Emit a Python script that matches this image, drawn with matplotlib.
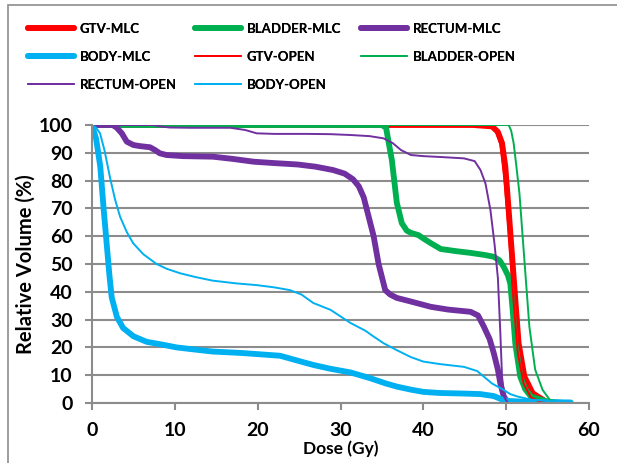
import matplotlib.pyplot as plt
from matplotlib.patches import Rectangle

plt.rcParams['font.family'] = ['Lato', 'DejaVu Sans']
plt.rcParams['font.weight'] = 'bold'

# dose-volume curves (dose in Gy, volume in %)
gtv_mlc_x = [0, 10, 20, 30, 40, 46, 48.3, 49.0, 49.5, 49.9, 50.3, 50.9, 51.5, 52.2, 53.2, 54.8, 56]
gtv_mlc_y = [100, 100, 100, 100, 100, 100, 99.5, 97.5, 93.5, 85, 69.4, 45.4, 21.5, 9.5, 3.5, 0.5, 0]

bladder_mlc_x = [0, 10, 20, 30, 35.0, 35.5, 35.8, 36.2, 36.8, 37.4, 38.0, 38.5, 39.4, 40.1, 40.9, 42.1,
                 44, 45.7, 47.5, 48.5, 49.2, 49.7, 50.2, 50.5, 50.8, 51.1, 51.7, 52.3, 53.0, 55.0, 57]
bladder_mlc_y = [100, 100, 100, 100, 100, 99, 94, 87.4, 72, 64.7, 62, 61.2, 60.4, 59, 57.5, 55.4,
                 54.6, 54, 53.2, 52.6, 51.3, 49, 46, 43, 33, 21.5, 9.5, 5, 2.3, 0.5, 0]

rectum_mlc_x = [0, 2.5, 3.0, 3.6, 4.2, 5.0, 5.8, 7.0, 7.6, 8.2, 9.0, 11, 14.6, 17, 19.5, 22, 24.8, 27,
                29.1, 30.5, 31.5, 32.2, 32.8, 33.4, 34.0, 34.6, 35.4, 36.0, 36.8, 38.5, 40.9, 43, 45.7,
                46.6, 47.3, 48.0, 48.5, 49.0, 49.3, 49.7, 50.2, 52, 57]
rectum_mlc_y = [100, 100, 99, 97, 94, 92.8, 92.4, 92, 91, 89.8, 89.2, 88.8, 88.6, 87.8, 86.8, 86.3, 85.8, 85.0,
                83.8, 82.5, 80.5, 78, 74, 67, 60, 50, 40.6, 39, 37.8, 36.5, 34.6, 33.6, 32.8,
                31.5, 27.5, 23, 18, 12, 7, 2.5, 0, 0, 0]

body_mlc_x = [0, 0.5, 1.0, 1.4, 1.78, 2.1, 2.38, 3.0, 3.75, 5.0, 6.6, 8.5, 10.2, 12.5, 14.6, 18, 22.7,
              24.5, 26.7, 28.8, 31.2, 33.5, 35.5, 36.8, 38.5, 40.0, 42, 44.9, 46.9, 48.5, 49.7, 50.5,
              52, 55, 57.8]
body_mlc_y = [100, 95, 85, 70, 57, 46, 38, 31, 27, 24, 22, 21, 20, 19.2, 18.5, 18, 17,
              15.5, 13.7, 12.3, 11, 9, 7, 5.9, 4.8, 4, 3.6, 3.4, 3.2, 2.5, 1, 0.7,
              0.5, 0.3, 0.2]

gtv_open_x = [0, 10, 20, 30, 40, 46, 48.0, 48.7, 49.3, 49.8, 50.3, 50.8, 51.4, 52.1, 53.0, 54.2, 56]
gtv_open_y = [100, 100, 100, 100, 100, 100, 100, 98, 93, 80, 62, 40, 18, 7, 2, 0.3, 0]

bladder_open_x = [0, 10, 20, 30, 40, 50.3, 50.6, 50.9, 51.2, 51.6, 52.2, 52.8, 53.5, 54.4, 55.3, 56, 57]
bladder_open_y = [100, 100, 100, 100, 100, 100, 98, 93.5, 86, 75.5, 51.4, 27.5, 12, 4.7, 1, 0.3, 0]

rectum_open_x = [0, 7.4, 8.5, 9.4, 12, 16.7, 18.5, 19.9, 22, 26, 28.8, 31.2, 33.5, 35.2, 36.3, 37.3,
                 38.5, 40, 42, 44.9, 46.2, 46.9, 47.5, 48.1, 48.6, 49.0, 49.3, 49.5, 49.8, 50.2, 53, 57]
rectum_open_y = [100, 100, 99.4, 99.1, 99, 99, 98.2, 97, 96.8, 96.8, 96.7, 96.4, 96, 95.2, 93.5, 91,
                 89.2, 88.8, 88.5, 88, 87, 83.8, 79, 69.4, 57, 45, 25, 9.5, 2, 0, 0, 0]

body_open_x = [0, 0.5, 0.97, 1.5, 2.18, 2.8, 3.39, 4.2, 4.96, 6.2, 7.8, 9, 10.6, 12.5, 14.6, 17.5, 19.9,
               22, 23.9, 25.3, 26.7, 28.8, 31.2, 33, 34.0, 35.2, 36.8, 38.5, 40.0, 42, 44.9, 46.5, 47.3,
               48.3, 49.7, 50.5, 51.4, 53, 55, 57.8]
body_open_y = [100, 99, 97, 91, 81, 73, 67, 61.5, 57.5, 53.5, 50, 48.3, 46.7, 45.3, 44, 43, 42.4,
               41.6, 40.6, 39, 36, 33.5, 28.8, 26, 23.9, 21.5, 19, 16.5, 14.9, 14, 13, 11.5, 9.5,
               7, 4.7, 3.2, 2.3, 1.2, 0.7, 0.3]

red = '#FF0000'
green = '#00B050'
purple = '#7030A0'
cyan = '#00B0F0'

series = [
    ('GTV-MLC', gtv_mlc_x, gtv_mlc_y, red, 4.2),
    ('BLADDER-MLC', bladder_mlc_x, bladder_mlc_y, green, 4.2),
    ('RECTUM-MLC', rectum_mlc_x, rectum_mlc_y, purple, 4.2),
    ('BODY-MLC', body_mlc_x, body_mlc_y, cyan, 4.2),
    ('GTV-OPEN', gtv_open_x, gtv_open_y, red, 1.4),
    ('BLADDER-OPEN', bladder_open_x, bladder_open_y, green, 1.4),
    ('RECTUM-OPEN', rectum_open_x, rectum_open_y, purple, 1.4),
    ('BODY-OPEN', body_open_x, body_open_y, cyan, 1.4),
]

fig = plt.figure(figsize=(6.17, 4.63), dpi=100)
fig.patches.append(Rectangle((8 / 617, -0.1), 1.2, 1 - 5 / 463 + 0.1, transform=fig.transFigure,
                             fill=False, edgecolor='#8c8c8c', lw=1.2))
ax = fig.add_axes([92 / 617, 60 / 463, 497 / 617, 278 / 463])

lines = []
for name, xs, ys, c, lw in series:
    ln, = ax.plot(xs, ys, color=c, lw=lw, label=name, solid_joinstyle='round', solid_capstyle='round')
    lines.append(ln)

ax.set_xlim(0, 60)
ax.set_ylim(0, 100)
ax.set_xticks(range(0, 61, 10))
ax.set_yticks(range(0, 101, 10))
ax.yaxis.grid(True, color='#8c8c8c', lw=1.5)
ax.set_axisbelow(True)
for s in ['top', 'right']:
    ax.spines[s].set_visible(False)
for s in ['left', 'bottom']:
    ax.spines[s].set_color('#8c8c8c')
    ax.spines[s].set_linewidth(1.5)
ax.tick_params(axis='both', colors='#8c8c8c', labelcolor='black', labelsize=14, width=1.5, length=5)
ax.tick_params(axis='x', pad=9)
ax.tick_params(axis='y', pad=9)
ax.set_xlabel('Dose (Gy)', fontsize=12.5, fontweight='bold', labelpad=1)
ax.set_ylabel('Relative Volume (%)', fontsize=14.5, fontweight='bold', labelpad=2)

# legend laid out in three columns like the original
columns = [[0, 3, 6], [1, 4, 7], [2, 5]]
col_x = [28, 195, 361]
for idx, cx in zip(columns, col_x):
    leg = fig.legend([lines[i] for i in idx], [series[i][0] for i in idx],
                     loc='upper left', bbox_to_anchor=(cx / 617, 1 - 23 / 463), frameon=False,
                     fontsize=9.5, handlelength=3.5, handletextpad=0.4, labelspacing=1.2,
                     borderpad=0, borderaxespad=0)
    fig.add_artist(leg)

fig.savefig('out.png', dpi=100)
